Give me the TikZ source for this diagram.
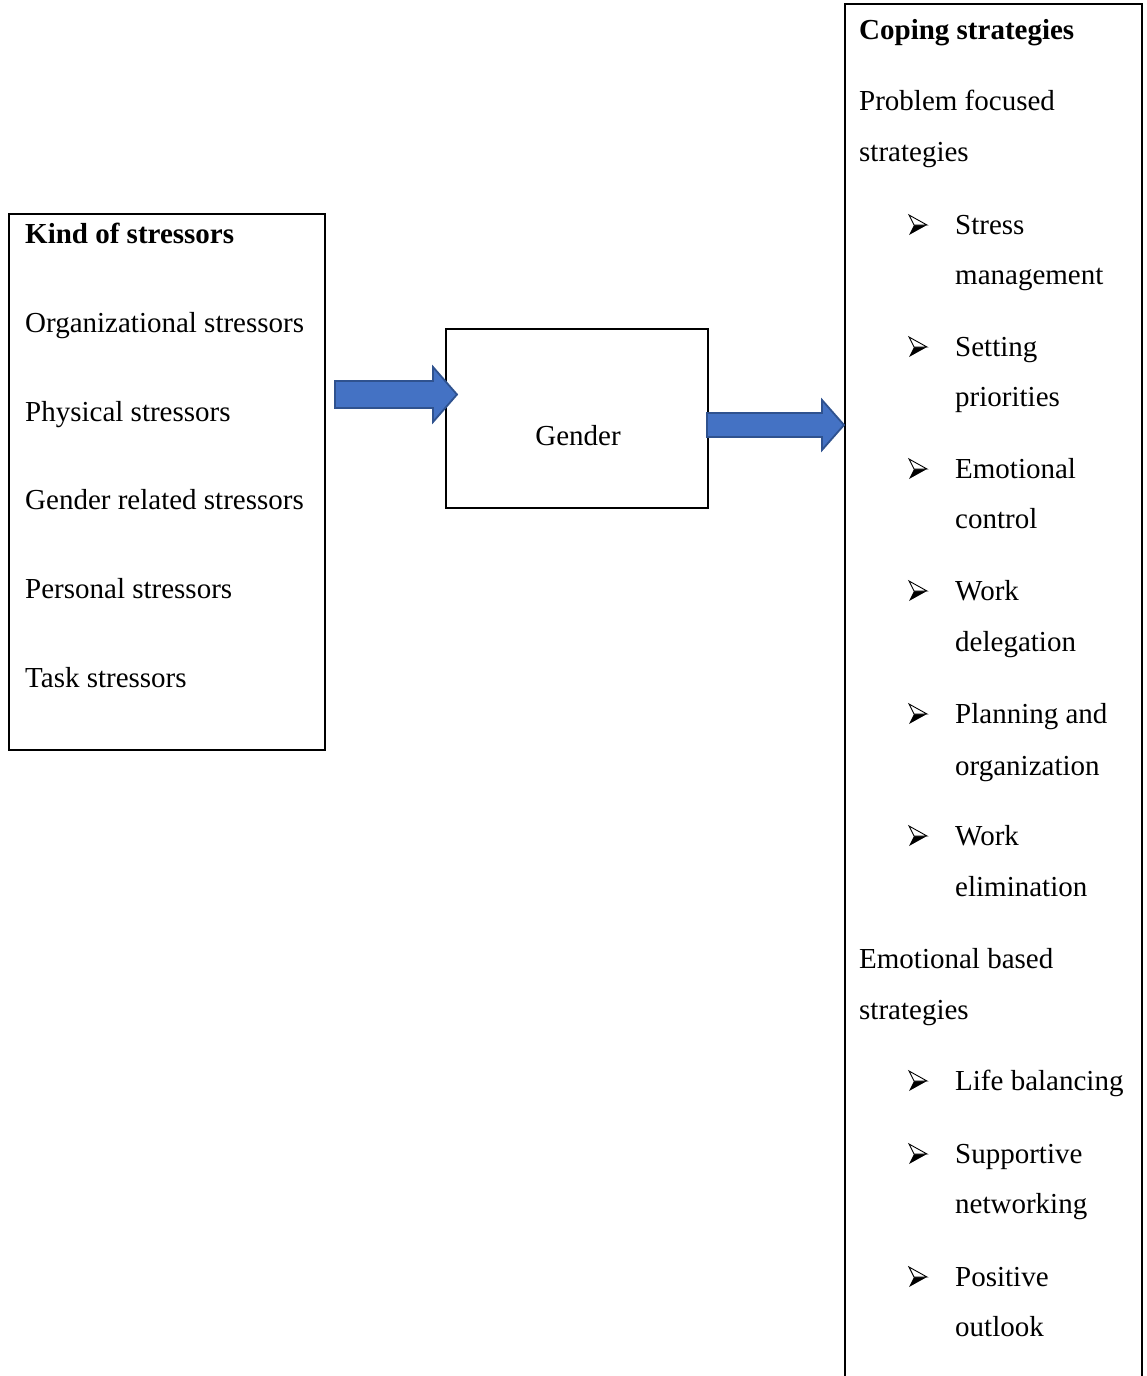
\documentclass[tikz,border=0pt]{standalone}
\usepackage{fontspec}
\setmainfont{Liberation Serif}
\definecolor{arrfill}{HTML}{4472C4}
\definecolor{arrline}{HTML}{2F528F}
\begin{document}
\begin{tikzpicture}[x=1pt,y=-1pt,
  box/.style={draw=black, line width=2.2pt, fill=none, inner sep=0pt},
  txt/.style={anchor=base west, inner sep=0pt, font=\fontsize{29}{35}\selectfont},
  ctxt/.style={inner sep=0pt, font=\fontsize{29}{35}\selectfont},
  blockarrow/.style={fill=arrfill, draw=arrline, line width=1.8pt, line join=miter},
  bul/.pic={
    \fill[black] (9,0) -- (-4,0) -- (-9,10) -- cycle;
    \draw[black, line width=0.9pt, fill=white, line join=miter] (9,0) -- (-9,-10) -- (-4,0) -- cycle;
  }]
\useasboundingbox (0,0) rectangle (1146,1376);
\clip (0,0) rectangle (1146,1376);
\fill[white] (0,0) rectangle (1146,1376);

% boxes
\node[box, minimum width=316pt, minimum height=536pt] (L) at (167,482) {};
\node[box, minimum width=262pt, minimum height=179pt] (G) at (577,418.5) {};
\node[box, minimum width=297pt, minimum height=1400pt] (R) at (993.5,704) {};

% left box texts
\node[txt, font=\fontsize{29}{35}\selectfont\bfseries] (l0) at (25,243) {Kind of stressors};
\node[txt] (l1) at (25,332) {Organizational stressors};
\node[txt] (l2) at (25,421) {Physical stressors};
\node[txt] (l3) at (25,509) {Gender related stressors};
\node[txt] (l4) at (25,598) {Personal stressors};
\node[txt] (l5) at (25,687) {Task stressors};

% gender
\node[ctxt] (gt) at (578,436) {Gender};

% right box texts
\node[txt, font=\fontsize{29}{35}\selectfont\bfseries] (r0) at (859,39) {Coping strategies};
\node[txt] (r1) at (859,110) {Problem focused};
\node[txt] (r2) at (859,161) {strategies};
\node[txt] (r3) at (955,234) {Stress};
\node[txt] (r4) at (955,284) {management};
\node[txt] (r5) at (955,356) {Setting};
\node[txt] (r6) at (955,406) {priorities};
\node[txt] (r7) at (955,478) {Emotional};
\node[txt] (r8) at (955,528) {control};
\node[txt] (r9) at (955,600) {Work};
\node[txt] (r10) at (955,651) {delegation};
\node[txt] (r11) at (955,723) {Planning and};
\node[txt] (r12) at (955,775) {organization};
\node[txt] (r13) at (955,845) {Work};
\node[txt] (r14) at (955,896) {elimination};
\node[txt] (r15) at (859,968) {Emotional based};
\node[txt] (r16) at (859,1019) {strategies};
\node[txt] (r17) at (955,1090) {Life balancing};
\node[txt] (r18) at (955,1163) {Supportive};
\node[txt] (r19) at (955,1213) {networking};
\node[txt] (r20) at (955,1286) {Positive};
\node[txt] (r21) at (955,1336) {outlook};

% bullets
\foreach \yy in {225,347,469,591,714,836,1081,1154,1277}
  \pic at (918,\yy) {bul};

% block arrows (L -> G, G -> R)
\draw[blockarrow] (335,381) -- (433,381) -- (433,367) -- (457,394.5) -- (433,422) -- (433,408) -- (335,408) -- cycle;
\draw[blockarrow] (707,413) -- (822,413) -- (822,400) -- (844,425) -- (822,450) -- (822,437) -- (707,437) -- cycle;
\end{tikzpicture}
\end{document}
